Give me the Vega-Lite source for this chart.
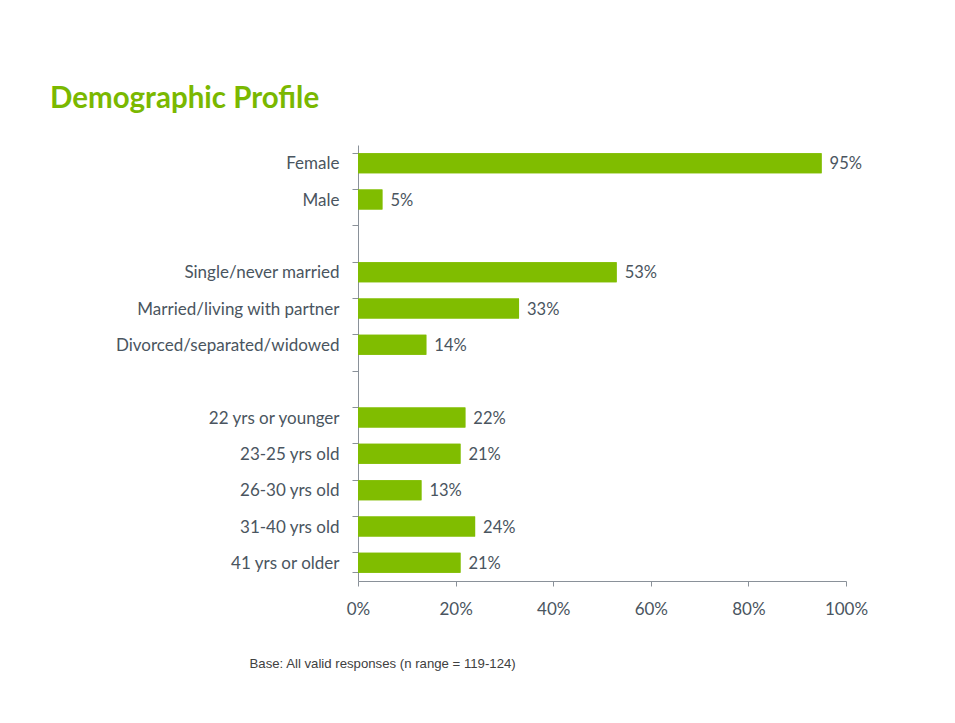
{
  "$schema": "https://vega.github.io/schema/vega-lite/v6.json",
  "width": 488,
  "height": 436,
  "autosize": {"type": "none"},
  "padding": {"left": 358, "top": 145, "right": 109, "bottom": 142},
  "background": "white",
  "title": {
    "text": "Demographic Profile",
    "anchor": "start",
    "frame": "group",
    "dx": -308,
    "offset": 8,
    "baseline": "alphabetic",
    "font": "Lato",
    "fontSize": 29.5,
    "fontWeight": "bold",
    "color": "#7ab800"
  },
  "config": {"view": {"stroke": null}},
  "data": {
    "values": [
      {"cat": "Female", "value": 0.95},
      {"cat": "Male", "value": 0.05},
      {"cat": "Single/never married", "value": 0.53},
      {"cat": "Married/living with partner", "value": 0.33},
      {"cat": "Divorced/separated/widowed", "value": 0.14},
      {"cat": "22 yrs or younger", "value": 0.22},
      {"cat": "23-25 yrs old", "value": 0.21},
      {"cat": "26-30 yrs old", "value": 0.13},
      {"cat": "31-40 yrs old", "value": 0.24},
      {"cat": "41 yrs or older", "value": 0.21}
    ]
  },
  "encoding": {
    "y": {
      "field": "cat",
      "type": "nominal",
      "sort": null,
      "scale": {
        "domain": ["Female", "Male", "gap1", "Single/never married", "Married/living with partner", "Divorced/separated/widowed", "gap2", "22 yrs or younger", "23-25 yrs old", "26-30 yrs old", "31-40 yrs old", "41 yrs or older"],
        "paddingInner": 0.45,
        "paddingOuter": 0.225
      }
    },
    "x": {
      "field": "value",
      "type": "quantitative",
      "scale": {"domain": [0, 1]},
      "axis": {
        "values": [0, 0.2, 0.4, 0.6, 0.8, 1],
        "format": ".0%",
        "grid": false,
        "tickSize": 5,
        "labelFlush": false,
        "labelPadding": 15,
        "labelFont": "Lato",
        "labelFontSize": 17,
        "labelColor": "#4a5560",
        "domainColor": "#8a9199",
        "tickColor": "#8a9199",
        "title": "Base: All valid responses (n range = 119-124)",
        "titleFont": "Liberation Sans",
        "titleFontSize": 13.2,
        "titleFontWeight": "normal",
        "titleColor": "#404040",
        "titleAlign": "left",
        "titleAnchor": "start",
        "titleBaseline": "alphabetic",
        "titleX": -109,
        "titleY": 86
      }
    }
  },
  "layer": [
    {
      "mark": {"type": "bar", "color": "#80bd00"},
      "encoding": {
        "y": {
          "field": "cat",
          "type": "nominal",
          "sort": null,
          "axis": {
            "orient": "left",
            "title": null,
            "labels": false,
            "bandPosition": 0,
            "tickSize": 6,
            "domainColor": "#8a9199",
            "tickColor": "#8a9199"
          }
        }
      }
    },
    {
      "mark": {"type": "bar", "color": "#80bd00"},
      "encoding": {
        "y": {
          "field": "cat",
          "type": "nominal",
          "sort": null,
          "axis": {
            "orient": "left",
            "title": null,
            "labels": false,
            "domain": false,
            "bandPosition": 1,
            "values": ["41 yrs or older"],
            "tickSize": 6,
            "tickColor": "#8a9199"
          }
        }
      }
    },
    {
      "mark": {"type": "text", "align": "left", "baseline": "middle", "dx": 8, "dy": 1, "font": "Lato", "fontSize": 16.5, "color": "#4a5560"},
      "encoding": {
        "text": {"field": "value", "format": ".0%"},
        "y": {
          "field": "cat",
          "type": "nominal",
          "sort": null,
          "axis": {
            "orient": "left",
            "title": null,
            "ticks": false,
            "domain": false,
            "labelPadding": 19,
            "labelLimit": 300,
            "labelFont": "Lato",
            "labelFontSize": 17,
            "labelColor": "#4a5560",
            "labelOffset": 1,
            "labelExpr": "indexof(datum.value, 'gap') == 0 ? '' : datum.value"
          }
        }
      }
    }
  ],
  "resolve": {"axis": {"y": "independent"}}
}
